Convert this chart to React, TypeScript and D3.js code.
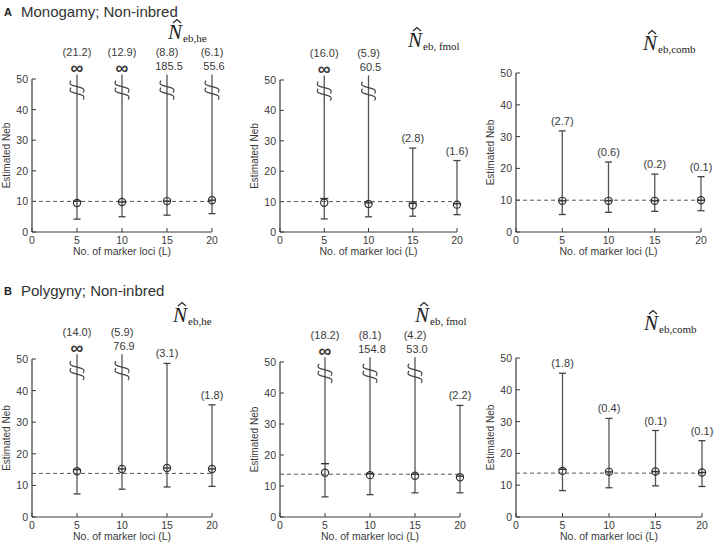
import React from 'react';
import * as d3 from 'd3';

// number of marker loci
const lociL = [5, 10, 15, 20];
const xTicks = [0, 5, 10, 15, 20];
const yTicks = [0, 10, 20, 30, 40, 50];

// true Neb (dashed line)
const trueNebMono = 10;
const trueNebPoly = 13.8;

// A: Monogamy; Non-inbred
const monoHeMean = [9.5, 9.8, 10.1, 10.4];
const monoHeMedian = [10.1, 9.8, 10.1, 10.4];
const monoHeLower = [4.2, 5.0, 5.5, 6.0];
const monoHeUpper = [Infinity, Infinity, 185.5, 55.6];
const monoHeCV = [21.2, 12.9, 8.8, 6.1];

const monoFmolMean = [9.6, 9.2, 8.8, 9.0];
const monoFmolMedian = [11.0, 9.6, 9.4, 9.3];
const monoFmolLower = [4.3, 5.0, 5.2, 5.7];
const monoFmolUpper = [Infinity, 60.5, 27.6, 23.5];
const monoFmolCV = [16.0, 5.9, 2.8, 1.6];

const monoCombMean = [9.8, 9.8, 9.8, 10.0];
const monoCombMedian = [9.8, 9.8, 9.8, 10.0];
const monoCombLower = [5.5, 6.2, 6.5, 6.7];
const monoCombUpper = [31.8, 22.0, 18.2, 17.4];
const monoCombCV = [2.7, 0.6, 0.2, 0.1];

// B: Polygyny; Non-inbred
const polyHeMean = [14.5, 15.2, 15.5, 15.2];
const polyHeMedian = [15.0, 15.2, 15.5, 15.2];
const polyHeLower = [7.3, 8.8, 9.5, 9.7];
const polyHeUpper = [Infinity, 76.9, 48.6, 35.5];
const polyHeCV = [14.0, 5.9, 3.1, 1.8];

const polyFmolMean = [14.3, 13.5, 13.3, 12.8];
const polyFmolMedian = [17.2, 14.0, 13.8, 13.2];
const polyFmolLower = [6.5, 7.2, 7.8, 7.8];
const polyFmolUpper = [Infinity, 154.8, 53.0, 36.0];
const polyFmolCV = [18.2, 8.1, 4.2, 2.2];

const polyCombMean = [14.5, 14.2, 14.3, 14.0];
const polyCombMedian = [15.0, 14.2, 14.3, 14.0];
const polyCombLower = [8.3, 9.2, 9.8, 9.6];
const polyCombUpper = [45.2, 31.0, 27.2, 24.0];
const polyCombCV = [1.8, 0.4, 0.1, 0.1];

const ink = '#3a3a3a';
const sans = '"Liberation Sans", Arial, sans-serif';
const serif = '"Liberation Serif", "Times New Roman", serif';

// layout of each small panel (pixel box of the plotting area)
const panels = [
  { left: 32, right: 212, top: 79, bottom: 232, sub: 'eb,he', nx: 168, ny: 39, truth: trueNebMono,
    mean: monoHeMean, median: monoHeMedian, lower: monoHeLower, upper: monoHeUpper, cv: monoHeCV },
  { left: 280, right: 457, top: 80, bottom: 232, sub: 'eb, fmol', nx: 408, ny: 47, truth: trueNebMono,
    mean: monoFmolMean, median: monoFmolMedian, lower: monoFmolLower, upper: monoFmolUpper, cv: monoFmolCV },
  { left: 516, right: 701, top: 73, bottom: 232, sub: 'eb,comb', nx: 643, ny: 50, truth: trueNebMono,
    mean: monoCombMean, median: monoCombMedian, lower: monoCombLower, upper: monoCombUpper, cv: monoCombCV },
  { left: 32, right: 212, top: 359, bottom: 517, sub: 'eb,he', nx: 173, ny: 322, truth: trueNebPoly,
    mean: polyHeMean, median: polyHeMedian, lower: polyHeLower, upper: polyHeUpper, cv: polyHeCV },
  { left: 280, right: 460, top: 362, bottom: 517, sub: 'eb, fmol', nx: 415, ny: 322, truth: trueNebPoly,
    mean: polyFmolMean, median: polyFmolMedian, lower: polyFmolLower, upper: polyFmolUpper, cv: polyFmolCV },
  { left: 516, right: 702, top: 358, bottom: 517, sub: 'eb,comb', nx: 644, ny: 330, truth: trueNebPoly,
    mean: polyCombMean, median: polyCombMedian, lower: polyCombLower, upper: polyCombUpper, cv: polyCombCV },
];

function Panel({ p }: { p: any }) {
  const x = d3.scaleLinear().domain([0, 20]).range([p.left, p.right]);
  const y = d3.scaleLinear().domain([0, 50]).range([p.bottom, p.top]);
  const midY = (p.top + p.bottom) / 2;

  return (
    <g>
      {/* axes */}
      <line x1={p.left} x2={p.left} y1={p.bottom} y2={p.top} stroke={ink} strokeWidth={1.2} />
      <line x1={p.left} x2={p.right} y1={p.bottom} y2={p.bottom} stroke={ink} strokeWidth={1.2} />
      {yTicks.map(t => (
        <g key={'y' + t}>
          <line x1={p.left} x2={p.left + 4} y1={y(t)} y2={y(t)} stroke={ink} />
          <text x={p.left - 4} y={y(t) + 4} fontSize={10.5} textAnchor="end" fill={ink} fontFamily={sans}>{t}</text>
        </g>
      ))}
      {xTicks.map(t => (
        <g key={'x' + t}>
          <line x1={x(t)} x2={x(t)} y1={p.bottom} y2={p.bottom - 4} stroke={ink} />
          <text x={x(t)} y={p.bottom + 12} fontSize={10.5} textAnchor="middle" fill={ink} fontFamily={sans}>{t}</text>
        </g>
      ))}
      <text transform={`translate(${p.left - 22},${midY}) rotate(-90)`} fontSize={10} textAnchor="middle"
        fill={ink} fontFamily={sans}>Estimated Neb</text>
      <text x={(p.left + p.right) / 2} y={p.bottom + 23} fontSize={10.5} textAnchor="middle"
        fill={ink} fontFamily={sans}>No. of marker loci (L)</text>

      {/* true value */}
      <line x1={p.left} x2={p.right} y1={y(p.truth)} y2={y(p.truth)} stroke="#555" strokeDasharray="4,3" />

      {/* error bars */}
      {lociL.map((L, i) => {
        const cx = x(L);
        const up = p.upper[i];
        const broken = up > 50;
        const topY = broken ? y(51.5) : y(up);
        const valText = up === Infinity ? '∞' : up.toFixed(1);
        const bY = y(46.5);
        return (
          <g key={L}>
            <line x1={cx} x2={cx} y1={y(p.lower[i])} y2={topY} stroke="#555" strokeWidth={1.3} />
            <line x1={cx - 3.5} x2={cx + 3.5} y1={y(p.lower[i])} y2={y(p.lower[i])} stroke="#444" strokeWidth={1.3} />
            {!broken && (
              <line x1={cx - 3.5} x2={cx + 3.5} y1={topY} y2={topY} stroke="#444" strokeWidth={1.3} />
            )}
            {broken && (
              <g fill="none" stroke="#444" strokeWidth={1.2}>
                <path d={`M${cx - 6},${bY - 9} C${cx - 12},${bY - 1} ${cx + 12},${bY - 5} ${cx + 6},${bY + 3}`} />
                <path d={`M${cx - 6},${bY - 2} C${cx - 12},${bY + 6} ${cx + 12},${bY + 2} ${cx + 6},${bY + 10}`} />
              </g>
            )}
            {broken && (
              up === Infinity
                ? <text x={cx} y={topY - 0.5} fontSize={18} fontWeight="bold"
                    textAnchor="middle" fill={ink} fontFamily={sans}>{valText}</text>
                : <text x={cx + 2} y={topY - 4} fontSize={11} textAnchor="middle" fill={ink} fontFamily={sans}>{valText}</text>
            )}
            <text x={cx} y={broken ? topY - 18 : topY - 6} fontSize={11} textAnchor="middle" fill={ink}
              fontFamily={sans}>({p.cv[i].toFixed(1)})</text>
            <circle cx={cx} cy={y(p.mean[i])} r={3.6} fill="none" stroke="#333" strokeWidth={1.2} />
            <line x1={cx - 4} x2={cx + 4} y1={y(p.median[i])} y2={y(p.median[i])} stroke="#333" strokeWidth={1.4} />
          </g>
        );
      })}

      {/* estimator name */}
      <g fill="#222">
        <text x={p.nx} y={p.ny} fontSize={21} fontStyle="italic" fontFamily={serif}>N</text>
        <path d={`M${p.nx + 5},${p.ny - 16} L${p.nx + 9},${p.ny - 19.5} L${p.nx + 13},${p.ny - 16}`}
          fill="none" stroke="#222" strokeWidth={1.1} />
        <text x={p.nx + 15} y={p.ny + 3} fontSize={11} fontFamily={serif}>{p.sub}</text>
      </g>
    </g>
  );
}

export default function App() {
  return (
    <svg width={720} height={546} style={{ display: 'block', position: 'absolute', left: 0, top: 0, background: '#fff' }}>
      <rect width={720} height={546} fill="#fff" />
      <text x={4} y={16} fontSize={11} fontWeight="bold" fill="#222" fontFamily={sans}>A</text>
      <text x={21} y={17} fontSize={15} fill="#333" fontFamily={sans}>Monogamy; Non-inbred</text>
      <text x={4} y={295} fontSize={11} fontWeight="bold" fill="#222" fontFamily={sans}>B</text>
      <text x={21} y={296} fontSize={15} fill="#333" fontFamily={sans}>Polygyny; Non-inbred</text>
      {panels.map((p, i) => <Panel key={i} p={p} />)}
    </svg>
  );
}
